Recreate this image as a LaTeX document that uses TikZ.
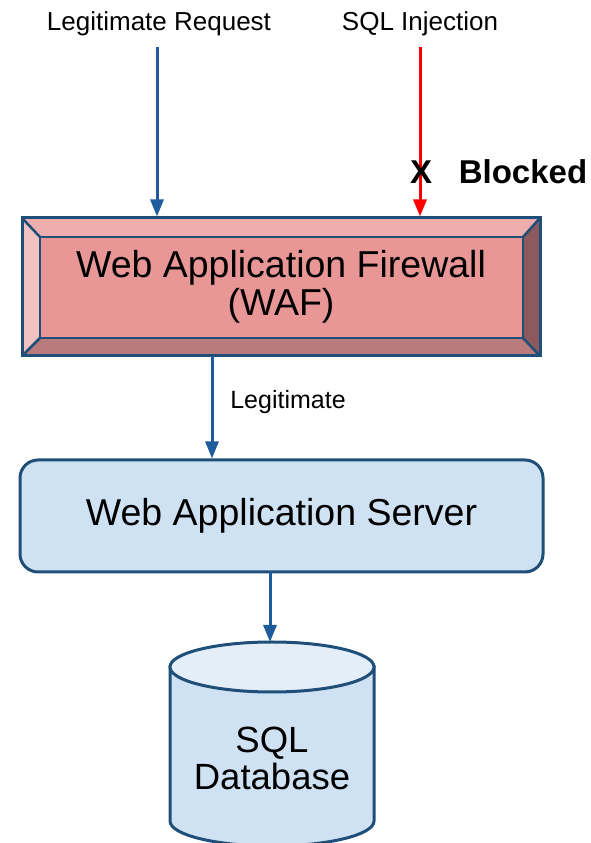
\documentclass[tikz,border=0pt]{standalone}
\usepackage{fontspec}
\setmainfont{Liberation Sans}
\usetikzlibrary{arrows.meta}
\definecolor{navy}{HTML}{1F4E79}
\definecolor{arrowblue}{HTML}{1F5C9C}
\definecolor{srvfill}{HTML}{CFE2F3}
\definecolor{dbtopfill}{HTML}{E3EEF8}
\definecolor{wafmid}{HTML}{E89696}
\definecolor{waftop}{HTML}{EEAEAE}
\definecolor{wafleft}{HTML}{F2C2C2}
\definecolor{wafright}{HTML}{8C5A5C}
\definecolor{wafbottom}{HTML}{B97B7B}
\tikzset{
  flow/.style={draw=arrowblue, line width=3pt, -{Triangle[length=17pt,width=13pt]}},
  blockflow/.style={draw=red, line width=3pt, -{Triangle[length=17pt,width=13pt]}, color=red},
  toplabel/.style={font=\fontsize{26}{28}\selectfont, inner sep=0pt},
  bigtext/.style={font=\fontsize{37.5}{38}\selectfont, align=center},
}
\begin{document}
\begin{tikzpicture}[x=1pt,y=1pt]
\useasboundingbox (0,0) rectangle (591,843);
% labels
\node[toplabel] (lrlab) at (159,819) {Legitimate Request};
\node[toplabel] (sqlab) at (420,819) {SQL Injection};
\coordinate (lrs) at (157,796);
\coordinate (sqs) at (420,796);
% WAF bevels
\fill[wafmid] (40,505) rectangle (523,606);
\fill[waftop] (22,625) -- (540,625) -- (523,606) -- (40,606) -- cycle;
\fill[wafleft] (22,625) -- (40,606) -- (40,505) -- (22,487) -- cycle;
\fill[wafright] (540,625) -- (540,487) -- (523,505) -- (523,606) -- cycle;
\fill[wafbottom] (22,487) -- (40,505) -- (523,505) -- (540,487) -- cycle;
\draw[navy, line width=2.5pt] (40,505) rectangle (523,606);
\draw[navy, line width=2.5pt] (22,625) -- (40,606) (540,625) -- (523,606) (22,487) -- (40,505) (540,487) -- (523,505);
\node[draw=navy, line width=3pt, minimum width=518pt, minimum height=138pt, inner sep=0pt, bigtext] (waf) at (281,556) {Web Application Firewall\\(WAF)};
% server
\node[draw=navy, line width=3pt, fill=srvfill, rounded corners=18pt, minimum width=523pt, minimum height=112pt, bigtext] (srv) at (281.5,327) {Web Application Server};
% database
\filldraw[fill=srvfill, draw=navy, line width=3pt] (170,176) -- (170,22) arc[start angle=180, end angle=360, x radius=102, y radius=25] -- (374,176) -- cycle;
\filldraw[fill=dbtopfill, draw=navy, line width=3pt] (272,176) ellipse[x radius=102, y radius=25];
\coordinate (dbtop) at (270,201);
\node[bigtext, font=\fontsize{36.5}{37}\selectfont] (db) at (272,85) {SQL\\Database};
% arrows
\draw[flow] (lrs) -- (lrs |- waf.north);
\draw[blockflow] (sqs) -- (sqs |- waf.north);
\node[font=\bfseries\fontsize{33}{34}\selectfont, inner sep=0pt] (xmark) at (421,671) {X};
\node[font=\bfseries\fontsize{33}{34}\selectfont, inner sep=0pt] (blk) at (523,671) {Blocked};
\coordinate (ws) at (212,487);
\draw[flow] (ws) -- (ws |- srv.north);
\node[toplabel, font=\fontsize{25}{26}\selectfont] (leglab) at (288,441) {Legitimate};
\coordinate (ss) at (270,271);
\draw[flow] (ss) -- (dbtop);
\end{tikzpicture}
\end{document}
